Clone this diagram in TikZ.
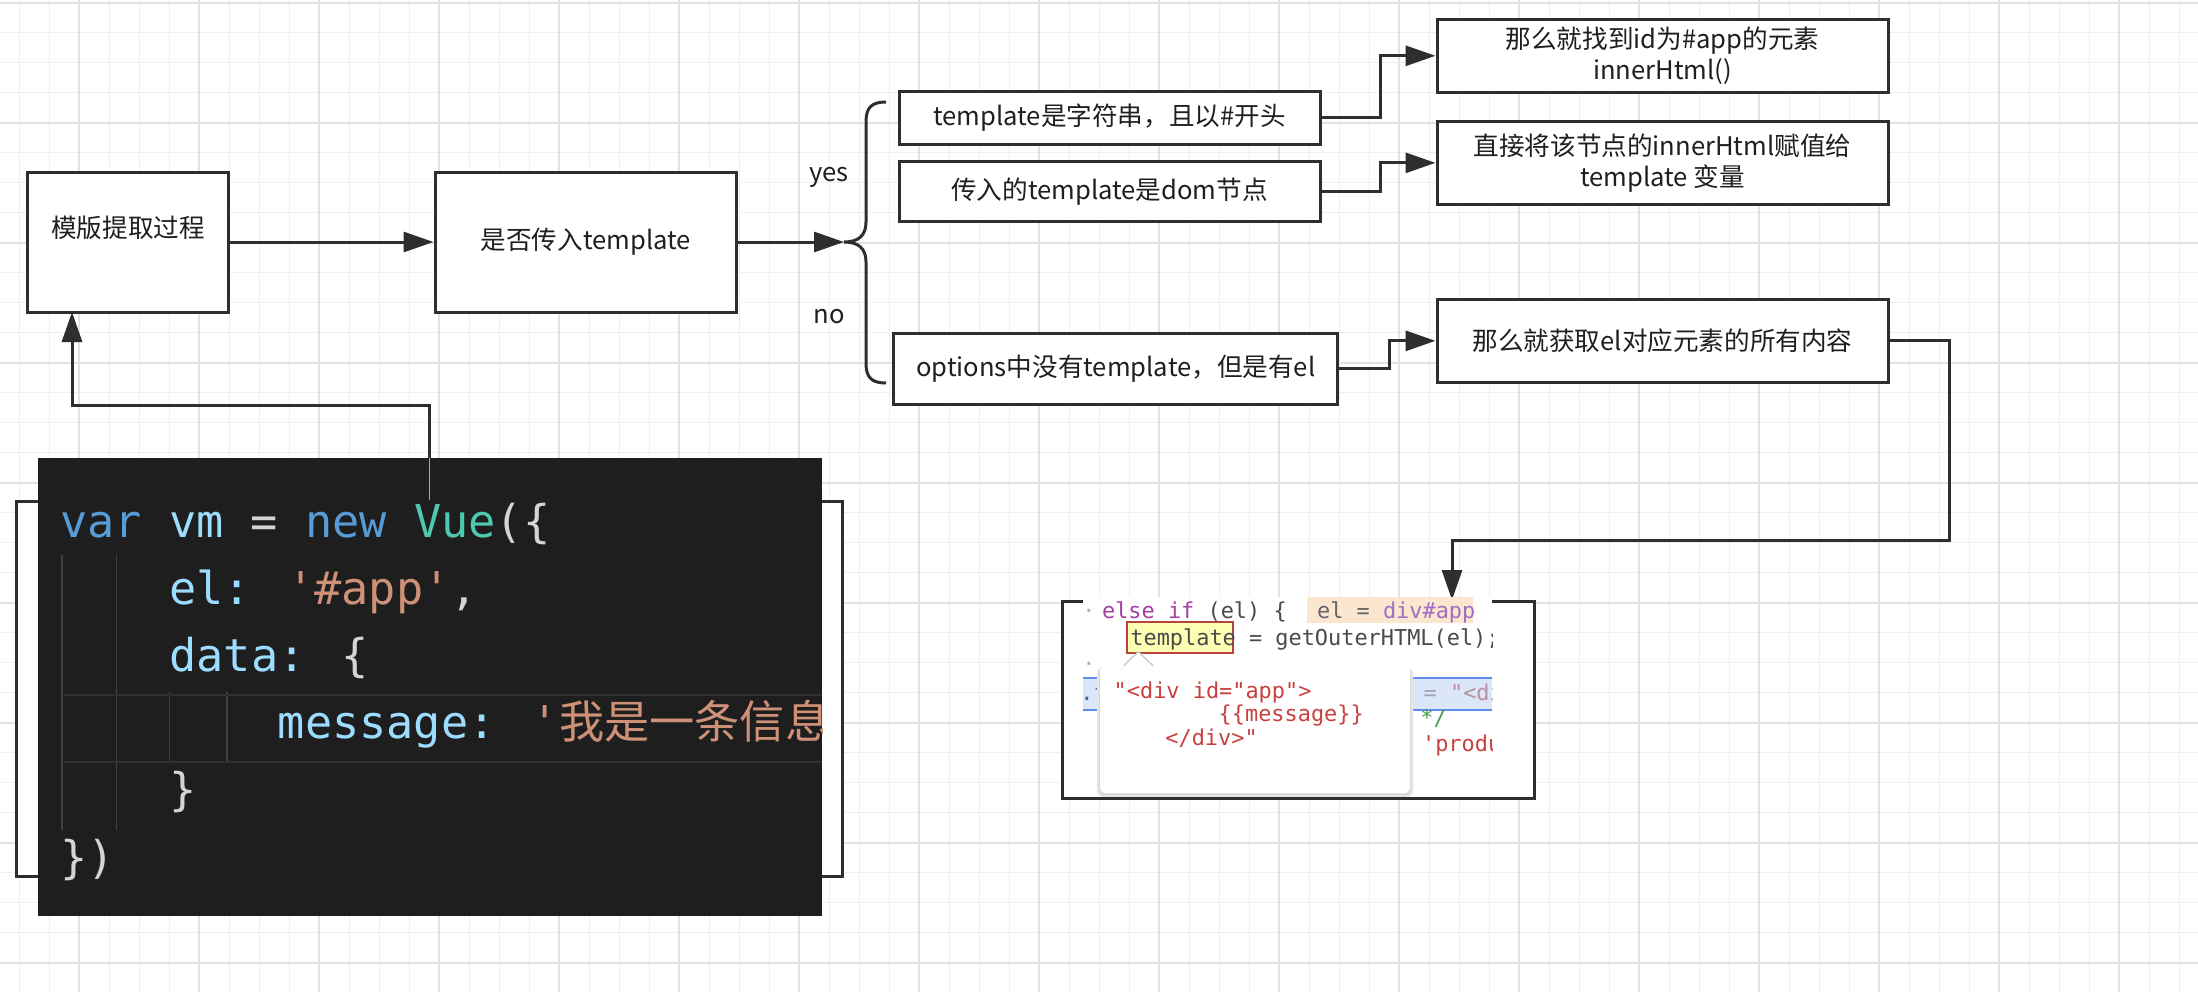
\documentclass[tikz,border=0pt]{standalone}
\usepackage{fontspec}
\setmainfont{Noto Sans CJK SC}
\newfontfamily\cjk{Noto Sans CJK SC}
\newfontfamily\codefont{DejaVu Sans Mono}
\usetikzlibrary{arrows.meta}
\definecolor{boxc}{HTML}{2E2E2E}
\definecolor{gminorc}{HTML}{EFEFEF}
\definecolor{gmajorc}{HTML}{E2E2E2}
\definecolor{codebg}{HTML}{1E1E1E}
\definecolor{ckw}{HTML}{569CD6}
\definecolor{cvar}{HTML}{9CDCFE}
\definecolor{ccls}{HTML}{4EC9B0}
\definecolor{cstr}{HTML}{CE9178}
\definecolor{cpun}{HTML}{D4D4D4}
\definecolor{cguide}{HTML}{404040}
\definecolor{chl}{HTML}{303030}
\definecolor{cpur}{HTML}{A33EA1}
\definecolor{cpur2}{HTML}{A06CC4}
\definecolor{cgr}{HTML}{4A4A4A}
\definecolor{cgr2}{HTML}{666666}
\definecolor{peach}{HTML}{FBE6D0}
\definecolor{yellowbg}{HTML}{FFFFB4}
\definecolor{brownred}{HTML}{B5443C}
\definecolor{bluebg}{HTML}{DCE6F9}
\definecolor{bluebd}{HTML}{5B8DEF}
\definecolor{ctipred}{HTML}{C9413F}
\definecolor{cgreen}{HTML}{4AA04A}
\definecolor{cfade}{HTML}{A0A0B8}
\definecolor{cfader}{HTML}{B890A0}
\definecolor{cdotf}{HTML}{4A5A8A}
\newcommand\mainsz{\fontsize{12.8pt}{15.5pt}\selectfont}
\newcommand\codeA{\codefont\fontsize{22.6pt}{27pt}\selectfont}
\newcommand\codeB{\codefont\fontsize{10.95pt}{13pt}\selectfont}
\tikzset{
  gminor/.style={draw=gminorc, line width=0.5pt},
  gmajor/.style={draw=gmajorc, line width=0.8pt},
  box/.style={draw=boxc, line width=1.5pt, fill=white, inner sep=0pt, align=center, font=\mainsz, text=black!88},
  conn/.style={draw=boxc, line width=1.5pt, -{Triangle[length=15pt,width=10pt]}},
  plainline/.style={draw=boxc, line width=1.5pt},
  frame/.style={draw=boxc, line width=1.5pt, fill=white, inner sep=0pt},
  lbl/.style={font=\mainsz, inner sep=0pt, text=black!88},
  codea/.style={anchor=base west, inner sep=0pt, font=\codeA},
  codeb/.style={anchor=base west, inner sep=0pt, font=\codeB},
  guide/.style={draw=cguide, line width=0.6pt},
}
\begin{document}
\begin{tikzpicture}[x=0.5pt,y=-0.5pt]
\useasboundingbox (0,0) rectangle (2198,992);
\fill[white] (0,0) rectangle (2198,992);
% grid
\foreach \i in {0,...,72} \draw[gminor] ({19+30*\i},0) -- ({19+30*\i},992);
\foreach \j in {0,...,32} \draw[gminor] (0,{2.7+30*\j}) -- (2198,{2.7+30*\j});
\foreach \i in {0,...,17} \draw[gmajor] ({79+120*\i},0) -- ({79+120*\i},992);
\foreach \j in {0,...,8} \draw[gmajor] (0,{2.7+120*\j}) -- (2198,{2.7+120*\j});

% main boxes
\node[box, minimum width=100.5pt, minimum height=70pt] (b1) at (128,242) {\raisebox{15pt}{模版提取过程}};
\node[box, minimum width=150.75pt, minimum height=70pt] (b2) at (585.75,242) {是否传入template};
\node[box, minimum width=210.5pt, minimum height=26.15pt] (A) at (1109.5,117.85) {template是字符串，且以\#开头};
\node[box, minimum width=210.5pt, minimum height=30pt] (B) at (1109.5,191.7) {传入的template是dom节点};
\node[box, minimum width=222pt, minimum height=35.5pt] (C) at (1115.7,368.5) {options中没有template，但是有el};
\node[box, minimum width=225.5pt, minimum height=36.5pt] (D) at (1662.5,55.8) {那么就找到id为\#app的元素\\innerHtml()};
\node[box, minimum width=225.5pt, minimum height=41.15pt] (E) at (1662.5,162.85) {直接将该节点的innerHtml赋值给\\template 变量};
\node[box, minimum width=225.5pt, minimum height=41.85pt] (F) at (1662.5,340.85) {那么就获取el对应元素的所有内容};

% brace
\coordinate (brace) at (844,242);
\draw[plainline] (886,102) .. controls (871,102) and (866,108) .. (866,122) -- (866,222)
  .. controls (866,236) and (858,242) .. (brace)
  .. controls (858,242) and (866,248) .. (866,262) -- (866,363)
  .. controls (866,377) and (871,383) .. (886,383);
\node[lbl] (lyes) at (829,177) {yes};
\node[lbl] (lno) at (829,317) {no};

% connectors
\draw[conn] (b1.east) -- (b2.west);
\draw[conn] (b2.east) -- (brace);
\draw[conn] (A.east) -- ++(59,0) |- (D.west);
\draw[conn] (B.east) -- ++(59,0) |- (E.west);
\draw[conn] (C.east) -- ++(50,0) |- (F.west);

% code block 1 (frame, connector, image)
\node[frame, minimum width=412.65pt, minimum height=187.5pt] (c1) at (429.35,688.5) {};
\coordinate (b1in) at (72,312);
\draw[conn] (c1.north) -- ++(0,-94) -| (b1in);
\node[fill=codebg, inner sep=0pt, minimum width=392pt, minimum height=228.75pt] (img1) at (430,686.75) {};
\draw[draw=gray!70, line width=0.6pt] (img1.north -| c1.north) -- (c1.north);
\begin{scope}
\clip (img1.south west) rectangle (img1.north east);
\draw[guide] (62,555) -- (62,830);
\draw[guide] (116.5,555) -- (116.5,830);
\draw[guide] (169.5,692) -- (169.5,763);
\draw[guide] (227,692) -- (227,763);
\draw[draw=chl, line width=1pt] (62,695) -- (822,695);
\draw[draw=chl, line width=1pt] (62,762) -- (822,762);
\node[codea] (v1) at (60,537) {\textcolor{ckw}{var} \textcolor{cvar}{vm} \textcolor{cpun}{=} \textcolor{ckw}{new} \textcolor{ccls}{Vue}\textcolor{cpun}{(\{}};
\node[codea] (v2) at (169,604.2) {\textcolor{cvar}{el:} \textcolor{cstr}{'\#app'}\textcolor{cpun}{,}};
\node[codea] (v3) at (169,671.4) {\textcolor{cvar}{data:} \textcolor{cpun}{\{}};
\node[codea] (v4) at (277.5,738.6) {\textcolor{cvar}{message:} \textcolor{cstr}{'{\cjk 我是一条信息}}};
\node[codea] (v5) at (169,805.8) {\textcolor{cpun}{\}}};
\node[codea] (v6) at (60,873) {\textcolor{cpun}{\})}};
\end{scope}

% code block 2
\node[frame, minimum width=235.65pt, minimum height=98.15pt] (c2) at (1298.35,699.85) {};
\coordinate (c2in) at (1452,600);
\draw[conn] (F.east) -- ++(60,0) -- ++(0,200) -| (c2in);
\node[fill=white, inner sep=0pt, minimum width=204.35pt, minimum height=99.5pt] (img2) at (1287.35,696.5) {};
\begin{scope}
\clip (img2.south west) rectangle (img2.north east);
\fill[peach] (1306.7,596.7) rectangle (1473.3,623.3);
\node[codeb, text=gray!60] (d1) at (1082,618.3) {·};
\node[codeb] (w1) at (1101.7,618.3) {\textcolor{cpur}{else if} \textcolor{cgr}{(el) \{}};
\node[codeb] (w1b) at (1316.7,618.3) {\textcolor{cgr2}{el =} \textcolor{cpur2}{div\#app}};
\draw[draw=brownred, fill=yellowbg, line width=0.9pt] (1126.7,622.3) rectangle (1233.3,653.3);
\node[codeb] (w2) at (1130,645) {\textcolor{cgr}{template = getOuterHTML(el);}};
\node[codeb, text=gray!60] (d2) at (1082,671.7) {·};
\fill[bluebg] (1083,678.3) rectangle (1491.7,710);
\draw[draw=bluebd, line width=1pt] (1083,678.3) -- (1491.7,678.3);
\draw[draw=bluebd, line width=1pt] (1083,710) -- (1491.7,710);
\node[codeb] (w3) at (1080,700) {\textcolor{cdotf}{.f}};
\node[codeb] (w3b) at (1423.3,700) {\textcolor{cfade}{=} \textcolor{cfader}{"<div}};
\node[codeb] (w4) at (1420,725.1) {\textcolor{cgreen}{*/}};
\node[codeb] (w5) at (1421.7,751.8) {\textcolor{ctipred}{'production'}};
% tooltip
\fill[black!10, rounded corners=3pt] (1097,668) rectangle (1413,797);
\fill[black!16, rounded corners=3pt] (1099,667) rectangle (1411,795);
\fill[white, rounded corners=3pt] (1100,666) rectangle (1410,793.3);
\fill[white] (1123.3,667) -- (1138.3,651.7) -- (1153.3,667) -- cycle;
\draw[draw=gray!45, line width=0.6pt] (1123.3,666) -- (1138.3,651.7) -- (1153.3,666);
\node[codeb] (t1) at (1113.3,698.3) {\textcolor{ctipred}{"<div id="app">}};
\node[codeb] (t2) at (1218.3,721.7) {\textcolor{ctipred}{\{\{message\}\}}};
\node[codeb] (t3) at (1165,745) {\textcolor{ctipred}{</div>"}};
\end{scope}
\end{tikzpicture}
\end{document}
